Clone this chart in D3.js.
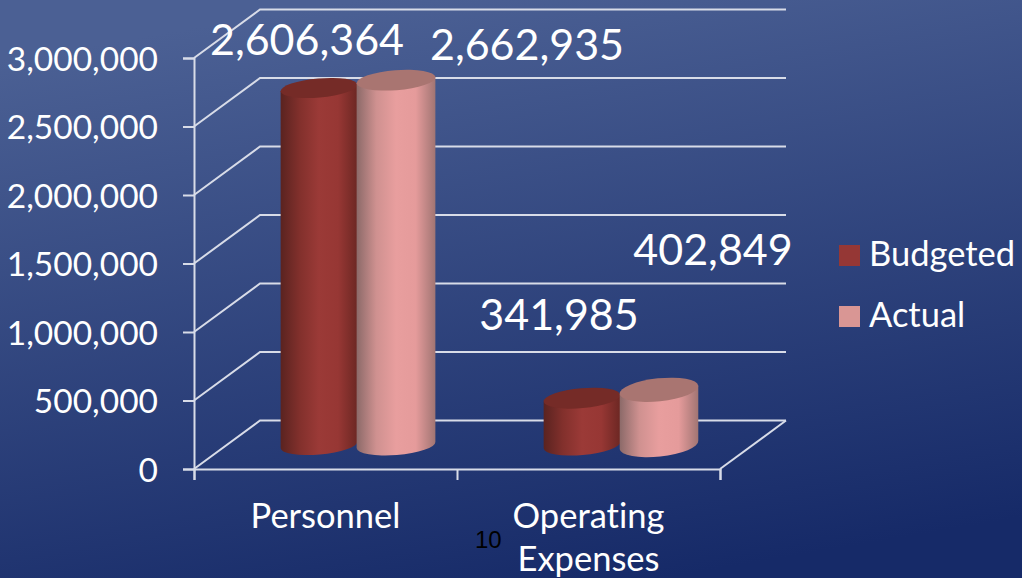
<!DOCTYPE html>
<meta charset="utf-8">
<head>
  <title>Budgeted vs actual</title>
</head>

<style>
html, body { margin: 0; padding: 0; background: #1a2d6b; }
svg { display: block; }
text { font-family: Lato, "Open Sans", sans-serif; fill: #fff; font-variant-ligatures: none; }
.axis path, .axis line, .grid { stroke: #d8dce8; stroke-width: 2; fill: none; }
.axis text { font-size: 33.5px; fill: #fff; }
</style>

<body>
  <svg width="1022" height="578"></svg>

  <script src="https://d3js.org/d3.v7.min.js"></script>
  <script>
var categories = ["Personnel", "Operating Expenses"];
var seriesNames = ["Budgeted", "Actual"];
var budgeted = [2606364, 341985];
var actual = [2662935, 402849];
var yTicks = [0, 500000, 1000000, 1500000, 2000000, 2500000, 3000000];

var svg = d3.select("svg");

// background
var defs = svg.append("defs");
var bg = defs.append("linearGradient").attr("id", "bg")
  .attr("x1", "0.35").attr("y1", "0").attr("x2", "0.65").attr("y2", "1");
bg.append("stop").attr("offset", "0").attr("stop-color", "#4b6094");
bg.append("stop").attr("offset", "1").attr("stop-color", "#162a68");
svg.append("rect").attr("width", 1022).attr("height", 578).attr("fill", "url(#bg)");

function sideGrad(id, stops) {
  var g = defs.append("linearGradient").attr("id", id);
  stops.forEach(function(s, i) {
    g.append("stop").attr("offset", i / (stops.length - 1)).attr("stop-color", s);
  });
}
sideGrad("side0", ["#5a2320", "#82302c", "#9b3a37", "#973734", "#6c2723"]);
sideGrad("side1", ["#8c6a69", "#cf9190", "#e89e9e", "#e59b9b", "#a17573"]);
var topColors = ["#752b27", "#a97571"];
var swatchColors = ["#953735", "#d99694"];

// plot box and the depth of the 3D floor
var left = 194, right = 720, bottom = 469, top3M = 58;
var depthX = 66, depthY = 48.5;

var y = d3.scaleLinear().domain([0, 3000000]).range([bottom, top3M]);
var x = d3.scaleBand().domain(categories).range([left, right]);
var inner = d3.scaleBand().domain(seriesNames).range([-77, 77]);

// walls
svg.append("g").selectAll("path")
  .data(yTicks)
  .enter()
  .append("path")
  .attr("class", "grid")
  .attr("d", function(d) {
    return d3.line()([[left, y(d)], [left + depthX, y(d) - depthY], [right + depthX, y(d) - depthY]]);
  });
svg.append("path").attr("class", "grid")
  .attr("d", d3.line()([[right, bottom], [right + depthX, bottom - depthY]]));

// axes
var yAxis = d3.axisLeft(y).tickValues(yTicks).tickSize(11).tickPadding(24)
  .tickFormat(d3.format(","));
svg.append("g").attr("class", "axis")
  .attr("transform", "translate(" + left + ",0)")
  .call(yAxis)
  .selectAll("text").attr("x", -36).attr("dy", "0.37em");

var xEdges = d3.scaleLinear().domain([0, 2]).range([left, right]);
svg.append("g").attr("class", "axis")
  .attr("transform", "translate(0," + bottom + ")")
  .call(d3.axisBottom(xEdges).tickValues([0, 1, 2]).tickSize(11).tickFormat(""));

// cylinders
var rows = [];
seriesNames.forEach(function(name, s) {
  categories.forEach(function(cat, c) {
    rows.push({ s: s, c: c, name: name, cat: cat, value: (s == 0 ? budgeted : actual)[c] });
  });
});

var rxBySeries = [38.5, 39.5];
var ryByCat = [[9.5, 10], [10, 11.5]];
var tiltByCat = [[-5, -4.5], [-5, -6]];
var baseLift = 24;
var centerShift = depthX / 2 - 1;

function cx(d) {
  return x(d.cat) + x.bandwidth() / 2 + centerShift + inner(d.name) + inner.bandwidth() / 2;
}

var cyl = svg.append("g").selectAll("g")
  .data(rows)
  .enter()
  .append("g");

cyl.append("path")
  .attr("fill", function(d) { return "url(#side" + d.s + ")"; })
  .attr("d", function(d) {
    var a = tiltByCat[d.c][d.s] * Math.PI / 180;
    var rx = rxBySeries[d.s], ry = ryByCat[d.c][d.s];
    var dx = rx * Math.cos(a), dy = rx * Math.sin(a);
    var yb = y(d.value) - baseLift, y0 = y(0) - baseLift, c = cx(d);
    return "M" + (c - dx) + "," + (yb - dy)
      + "L" + (c - dx) + "," + (y0 - dy)
      + "A" + rx + "," + ry + " " + tiltByCat[d.c][d.s] + " 0 0 " + (c + dx) + "," + (y0 + dy)
      + "L" + (c + dx) + "," + (yb + dy) + "Z";
  });

cyl.append("ellipse")
  .attr("rx", function(d) { return rxBySeries[d.s]; })
  .attr("ry", function(d) { return ryByCat[d.c][d.s]; })
  .attr("fill", function(d) { return topColors[d.s]; })
  .attr("transform", function(d) {
    return "translate(" + cx(d) + "," + (y(d.value) - baseLift) + ") rotate(" + tiltByCat[d.c][d.s] + ")";
  });

// data labels sit where they were dragged to in the original
var labelOffsets = [[[-12, 0], [131, 0]], [[-23, 0], [54, 0]]];
var labelBaseline = [[55, 60], [330, 265]];
svg.append("g").selectAll("text")
  .data(rows)
  .enter()
  .append("text")
  .attr("text-anchor", "middle")
  .attr("font-size", 43)
  .attr("x", function(d) { return cx(d) + labelOffsets[d.c][d.s][0]; })
  .attr("y", function(d) { return labelBaseline[d.c][d.s]; })
  .text(function(d) { return d3.format(",")(d.value); });

// category labels
svg.append("g").selectAll("text")
  .data(categories)
  .enter()
  .append("text")
  .attr("text-anchor", "middle")
  .attr("font-size", 34.5)
  .attr("x", function(d) { return x(d) + x.bandwidth() / 2; })
  .attr("y", 528)
  .selectAll("tspan")
  .data(function(d) { return d.split(" "); })
  .enter()
  .append("tspan")
  .attr("x", function() { return this.parentNode.getAttribute("x"); })
  .attr("dy", function(d, i) { return i ? 43 : 0; })
  .text(function(d) { return d; });

// legend
var legend = svg.append("g").selectAll("g")
  .data(seriesNames)
  .enter()
  .append("g")
  .attr("transform", function(d, i) { return "translate(839," + (245 + i * 61) + ")"; });
legend.append("rect").attr("width", 21).attr("height", 21)
  .attr("fill", function(d, i) { return swatchColors[i]; });
legend.append("text").attr("x", 30).attr("y", 21).attr("font-size", 34.5)
  .text(function(d) { return d; });

// slide number
svg.append("text").attr("x", 475).attr("y", 548)
  .style("font-family", "'Liberation Sans', Arial, sans-serif")
  .style("fill", "#000").attr("font-size", 24).text("10");
  </script>
</body>
</html>
